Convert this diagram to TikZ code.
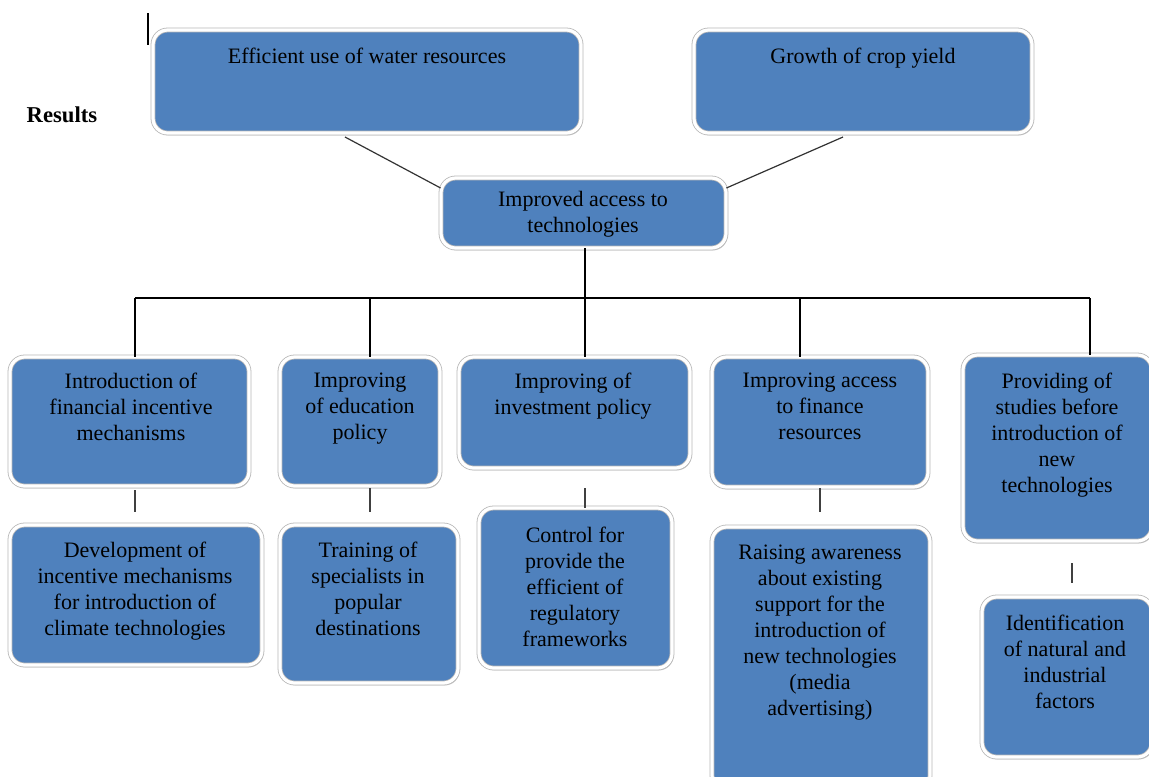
\documentclass[tikz,border=0pt]{standalone}
\usepackage{fontspec}
\setmainfont{Liberation Serif}
\usetikzlibrary{fit,shadows}
\definecolor{boxblue}{HTML}{4F81BD}
\begin{document}
\begin{tikzpicture}[x=0.75pt,y=-0.75pt,
  box/.style={rounded corners=11pt, fill=boxblue, draw=black!28, line width=0.6pt,
    double=white, double distance=2.4pt, inner sep=0pt,
    drop shadow={shadow xshift=1.2pt, shadow yshift=-1.8pt, opacity=0.4}},
  txt/.style={anchor=north, align=center, inner sep=0pt,
    font=\rmfamily\fontsize{16.5}{19.5}\selectfont},
  link/.style={line width=0.9pt, black}]
\clip (0,0) rectangle (1149,776);
\fill[white] (0,0) rectangle (1149,776);

% heading
\node[font=\rmfamily\bfseries\fontsize{17}{20}\selectfont] (res) at (62,115) {Results};
\coordinate (m1) at (148,13);
\coordinate (m2) at (148,45);
\draw[line width=0.8pt] (m1) -- (m2);

% results row
\node[box, fit={(153,30) (581,133)}] (wat) {};
\node[box, fit={(694,30) (1032,133)}] (crop) {};
\node[box, fit={(441,178) (726,248)}] (imp) {};

% measures row
\node[box, fit={(10,357) (249,486)}] (fin) {};
\node[box, fit={(280,357) (440,486)}] (edu) {};
\node[box, fit={(459,357) (690,468)}] (inv) {};
\node[box, fit={(712,357) (928,487)}] (acc) {};
\node[box, fit={(963,355) (1152,541)}] (stu) {};

% actions row
\node[box, fit={(10,525) (262,665)}] (dev) {};
\node[box, fit={(280,525) (458,683)}] (trn) {};
\node[box, fit={(479,508) (672,668)}] (ctl) {};
\node[box, fit={(712,527) (930,790)}] (rai) {};
\node[box, fit={(982,597) (1152,757)}] (idf) {};

% texts
\node[txt] at (367,48) {Efficient use of water resources};
\node[txt] at (863,48) {Growth of crop yield};
\node[txt] at (583,191) {Improved access to\\technologies};
\node[txt] at (131,373) {Introduction of\\financial incentive\\mechanisms};
\node[txt] at (360,373) {Improving\\of education\\policy};
\node[txt] at (573,373) {Improving of\\investment policy};
\node[txt] at (820,373) {Improving access\\to finance\\resources};
\node[txt] at (1057,373) {Providing of\\studies before\\introduction of\\new\\technologies};
\node[txt] at (135,542) {Development of\\incentive mechanisms\\for introduction of\\climate technologies};
\node[txt] at (368,542) {Training of\\specialists in\\popular\\destinations};
\node[txt] at (575,527) {Control for\\provide the\\efficient of\\regulatory\\frameworks};
\node[txt] at (820,545) {Raising awareness\\about existing\\support for the\\introduction of\\new technologies\\(media\\advertising)};
\node[txt] at (1065,615) {Identification\\of natural and\\industrial\\factors};

% links between results
\coordinate (w1) at (345,137);
\coordinate (c1) at (843,137);
\draw[link, black!80] (w1) -- (imp.west |- 0,188);
\draw[link, black!80] (c1) -- (imp.east |- 0,188);

% distribution bus
\coordinate (b1) at (135,298);
\coordinate (b2) at (370,298);
\coordinate (b3) at (585,298);
\coordinate (b4) at (800,298);
\coordinate (b5) at (1090,298);
\draw[link] (imp.south -| b3) -- (b3);
\draw[link] (b1) -- (b5);
\draw[link] (b1) -- (b1 |- fin.north);
\draw[link] (b2) -- (b2 |- edu.north);
\draw[link] (b3) -- (b3 |- inv.north);
\draw[link] (b4) -- (b4 |- acc.north);
\draw[link] (b5) -- (b5 |- stu.north);

% short stubs between rows
\coordinate (s1a) at (135,490); \coordinate (s1b) at (135,512);
\coordinate (s2a) at (370,488); \coordinate (s2b) at (370,512);
\coordinate (s3a) at (585,488); \coordinate (s3b) at (585,508);
\coordinate (s4a) at (820,488); \coordinate (s4b) at (820,512);
\coordinate (s5a) at (1072,563); \coordinate (s5b) at (1072,583);
\draw[link, line width=1.2pt, black!75] (s1a) -- (s1b);
\draw[link, line width=1.2pt, black!75] (s2a) -- (s2b);
\draw[link, line width=1.2pt, black!75] (s3a) -- (s3b);
\draw[link, line width=1.2pt, black!75] (s4a) -- (s4b);
\draw[link, line width=1.2pt, black!75] (s5a) -- (s5b);
\end{tikzpicture}
\end{document}
